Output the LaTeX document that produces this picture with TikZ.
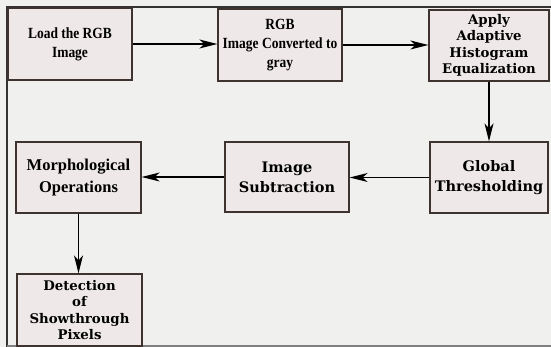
\documentclass[tikz,border=0pt]{standalone}
\usepackage{fontspec}
\usetikzlibrary{arrows.meta}
\newfontfamily\narrowfont[FakeStretch=0.87]{Liberation Serif Bold}
\newfontfamily\timesfont{Liberation Serif Bold}
\newfontfamily\widefont{DejaVu Serif Bold}
\definecolor{bg}{HTML}{F0F0EE}
\definecolor{boxfill}{HTML}{EFE8E8}
\definecolor{boxline}{HTML}{3F3330}
\definecolor{frameline}{HTML}{333333}
\begin{document}
\begin{tikzpicture}[x=1pt,y=-1pt,
  box/.style={draw=boxline, fill=boxfill, line width=1.2pt, inner sep=0pt, align=center},
  narrowtxt/.style={font=\narrowfont\fontsize{15.5}{19}\selectfont},
  timestxt/.style={font=\timesfont\fontsize{16.5}{21.5}\selectfont},
  widesmall/.style={font=\widefont\fontsize{13.3}{16.5}\selectfont},
  widebig/.style={font=\widefont\fontsize{14.5}{20}\selectfont},
  arr/.style={line width=1.4pt, -{Stealth[length=18pt,width=9pt,inset=5pt]}},
  framestyle/.style={line width=1.4pt, draw=frameline}]
\fill[bg] (0,0) rectangle (551,347);
\useasboundingbox (0,0) rectangle (551,347);
\draw[framestyle] (551,7) -- (7,7) -- (7,347);
\draw[line width=1.4pt, draw=gray] (7,346) -- (551,346);
\node[box, narrowtxt, minimum width=124pt, minimum height=72pt] (b1) at (70,44) {Load the RGB\\Image};
\node[box, narrowtxt, minimum width=124pt, minimum height=72pt] (b2) at (280,45) {RGB\\Image Converted to\\gray};
\node[box, widesmall, minimum width=120pt, minimum height=71pt] (b3) at (489,45.5) {Apply\\Adaptive\\Histogram\\Equalization};
\node[box, timestxt, minimum width=125pt, minimum height=71pt] (b4) at (78.5,177.5) {Morphological\\Operations};
\node[box, widebig, minimum width=124pt, minimum height=70pt] (b5) at (287,177) {Image\\Subtraction};
\node[box, widebig, minimum width=118pt, minimum height=71pt] (b6) at (489,177.5) {Global\\Thresholding};
\node[box, widesmall, minimum width=125pt, minimum height=72pt] (b7) at (79.5,310) {Detection\\of\\Showthrough\\Pixels};
\draw[arr] (b1.east) -- (b1.east -| b2.west);
\draw[arr] (b2.east) -- (b2.east -| b3.west);
\draw[arr] (b3.south) -- (b6.north);
\draw[arr] (b6.west) -- (b6.west -| b5.east);
\draw[arr] (b5.west) -- (b5.west -| b4.east);
\draw[arr] (b4.south) -- (b4.south |- b7.north);
\end{tikzpicture}
\end{document}
